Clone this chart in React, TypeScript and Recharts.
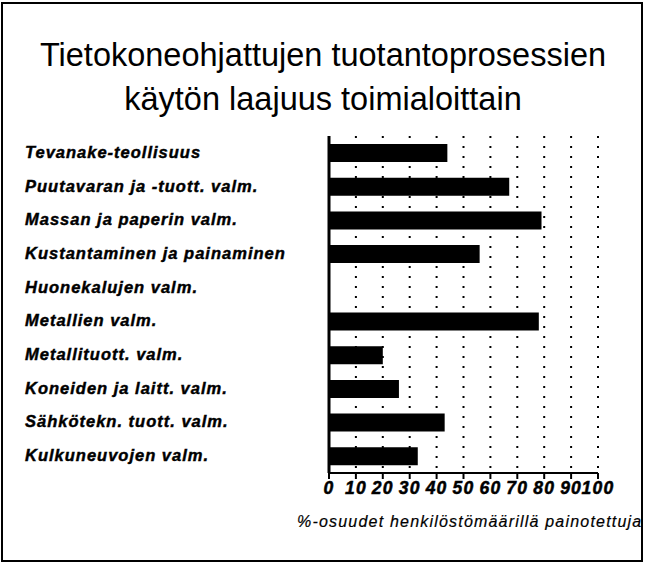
import React from "react";
import { BarChart, Bar, XAxis, YAxis, CartesianGrid } from "recharts";

const toimialat = [
  "Tevanake-teollisuus",
  "Puutavaran ja -tuott. valm.",
  "Massan ja paperin valm.",
  "Kustantaminen ja painaminen",
  "Huonekalujen valm.",
  "Metallien valm.",
  "Metallituott. valm.",
  "Koneiden ja laitt. valm.",
  "Sähkötekn. tuott. valm.",
  "Kulkuneuvojen valm.",
];

const osuudet = [44, 67, 79, 56, 0, 78, 20, 26, 43, 33];

const xTicks = [0, 10, 20, 30, 40, 50, 60, 70, 80, 90, 100];

const otsikko = ["Tietokoneohjattujen tuotantoprosessien", "käytön laajuus toimialoittain"];
const akseliNimi = "%-osuudet henkilöstömäärillä painotettuja";

const data = toimialat.map((nimi, i) => ({ nimi, arvo: osuudet[i] }));

const FONT = "'Liberation Sans', Arial, Helvetica, sans-serif";

const LuokkaTick = (props: any) => {
  const { y, payload } = props;
  return (
    <text
      x={25}
      y={y}
      dy={5}
      textAnchor="start"
      fontFamily={FONT}
      fontSize={16.5}
      fontWeight="bold"
      fontStyle="italic"
      letterSpacing={1}
      stroke="#000"
      strokeWidth={0.45}
      fill="#000"
    >
      {payload.value}
    </text>
  );
};

const App = () => {
  return (
    <div style={{ position: "absolute", left: 0, top: 0, width: 648, height: 564, background: "#fff" }}>
      <div style={{ position: "absolute", left: 0, top: 0 }}>
        <BarChart
          width={648}
          height={564}
          data={data}
          layout="vertical"
          margin={{ top: 136, right: 50, bottom: 0, left: 24 }}
          barSize={18}
        >
          <CartesianGrid
            horizontal={false}
            vertical
            stroke="#000"
            strokeWidth={2}
            strokeDasharray="2 8"
          />
          <XAxis
            type="number"
            domain={[0, 100]}
            ticks={xTicks}
            interval={0}
            height={91}
            axisLine={{ stroke: "#000", strokeWidth: 2 }}
            tickLine={{ stroke: "#000", strokeWidth: 2 }}
            tickSize={6}
            tickMargin={3}
            tick={{
              fill: "#000",
              stroke: "#000",
              strokeWidth: 0.5,
              fontFamily: FONT,
              fontSize: 17.5,
              fontWeight: "bold",
              fontStyle: "italic",
              letterSpacing: 1.2,
            }}
          />
          <YAxis
            type="category"
            dataKey="nimi"
            width={305}
            axisLine={{ stroke: "#000", strokeWidth: 3 }}
            tickLine={false}
            tick={<LuokkaTick />}
            interval={0}
          />
          <Bar dataKey="arvo" fill="#000" isAnimationActive={false} />
        </BarChart>
      </div>
      <svg
        width={648}
        height={564}
        style={{ position: "absolute", left: 0, top: 0, pointerEvents: "none" }}
      >
        <defs>
          <clipPath id="kehys">
            <rect x={2} y={3} width={640} height={558} />
          </clipPath>
        </defs>
        <rect x={2} y={3} width={640} height={558} fill="none" stroke="#000" strokeWidth={2} />
        {otsikko.map((rivi, i) => (
          <text
            key={i}
            x={323}
            y={66 + i * 44}
            textAnchor="middle"
            fontFamily={FONT}
            fontSize={32.5}
            fill="#000"
          >
            {rivi}
          </text>
        ))}
        <text
          x={297}
          y={527}
          clipPath="url(#kehys)"
          fontFamily={FONT}
          fontSize={16}
          fontStyle="italic"
          letterSpacing={1.2}
          stroke="#000"
          strokeWidth={0.2}
          fill="#000"
        >
          {akseliNimi}
        </text>
      </svg>
    </div>
  );
};

export default App;
